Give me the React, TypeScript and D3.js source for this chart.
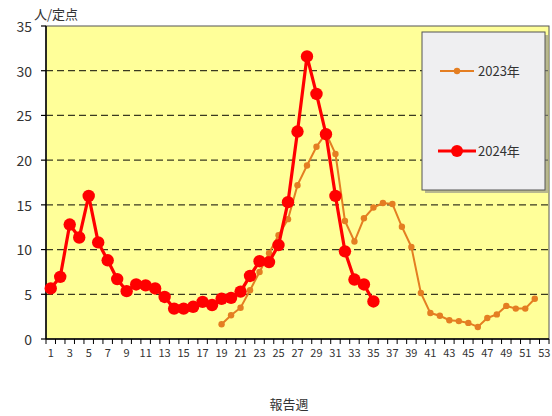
import React from "react";
import * as d3 from "d3";

const weeks: number[] = d3.range(1, 54);
const yTicks: number[] = [0, 5, 10, 15, 20, 25, 30, 35];
const xTickLabels: number[] = d3.range(1, 54, 2);

const weeks2023: number[] = d3.range(19, 53);
const values2023: number[] = [
  1.65, 2.65, 3.5, 5.45, 7.5, 9.6, 11.6, 13.4, 17.2, 19.4, 21.5, 23.0, 20.7, 13.2,
  10.9, 13.5, 14.7, 15.2, 15.1, 12.55, 10.3, 5.15, 2.9, 2.6, 2.1, 2.0, 1.8, 1.35,
  2.35, 2.75, 3.7, 3.4, 3.4, 4.5,
];

const weeks2024: number[] = d3.range(1, 36);
const values2024: number[] = [
  5.65, 6.95, 12.8, 11.35, 16.0, 10.8, 8.8, 6.7, 5.35, 6.1, 6.0, 5.65, 4.7, 3.4,
  3.4, 3.6, 4.15, 3.8, 4.5, 4.6, 5.3, 7.05, 8.7, 8.6, 10.5, 15.3, 23.2, 31.6,
  27.4, 22.9, 16.0, 9.8, 6.65, 6.1, 4.2,
];

const seriesNames: string[] = ["2023年", "2024年"];
const yUnit = "人/定点";
const xTitle = "報告週";

const W = 552;
const H = 416;
const left = 46;
const right = 549;
const top = 26;
const bottom = 339;

const FONT = "'Noto Sans CJK JP', 'Noto Sans', sans-serif";

export default function App() {
  const x = d3.scaleBand<number>().domain(weeks).range([left, right]).padding(0);
  const y = d3.scaleLinear().domain([0, 35]).range([bottom, top]);
  const cx = (w: number) => (x(w) as number) + x.bandwidth() / 2;

  const line = d3
    .line<[number, number]>()
    .x((d) => cx(d[0]))
    .y((d) => y(d[1]));

  const d2023: [number, number][] = weeks2023.map((w, i) => [w, values2023[i]]);
  const d2024: [number, number][] = weeks2024.map((w, i) => [w, values2024[i]]);

  const orange = "#E47E22";
  const red = "#FF0000";

  const boundaries = d3.range(0, weeks.length + 1).map((i) => left + i * x.step());

  return (
    <svg
      width={W}
      height={H}
      style={{ position: "absolute", left: 0, top: 0, background: "#fff" }}
      fontFamily={FONT}
    >
      <rect x={left} y={top} width={right - left} height={bottom - top} fill="#FFFF99" stroke="#555" strokeWidth={1} />
      {yTicks
        .filter((t) => t > 0 && t < 35)
        .map((t) => (
          <line
            key={"g" + t}
            x1={left}
            x2={right}
            y1={y(t)}
            y2={y(t)}
            stroke="#3a3a20"
            strokeWidth={1.2}
            strokeDasharray="7,4"
          />
        ))}
      {/* axes */}
      <line x1={left} x2={left} y1={top} y2={bottom} stroke="#000" strokeWidth={1.5} />
      <line x1={left} x2={right} y1={bottom} y2={bottom} stroke="#000" strokeWidth={1.5} />
      {yTicks.map((t) => (
        <g key={"yt" + t}>
          <line x1={left - 5} x2={left} y1={y(t)} y2={y(t)} stroke="#000" strokeWidth={1.2} />
          <text x={left - 14} y={y(t) + 1} dy="0.35em" textAnchor="end" fontSize={14} fill="#333">
            {t}
          </text>
        </g>
      ))}
      {boundaries.map((b, i) => (
        <line key={"xt" + i} x1={b} x2={b} y1={bottom} y2={bottom + 5} stroke="#000" strokeWidth={1} />
      ))}
      {xTickLabels.map((w) => (
        <text key={"xl" + w} x={cx(w)} y={bottom + 18} textAnchor="middle" fontSize={11} fill="#333">
          {w}
        </text>
      ))}
      <text x={34} y={19} fontSize={13} fill="#333">
        {yUnit}
      </text>
      <text x={289} y={409} textAnchor="middle" fontSize={13} fill="#333">
        {xTitle}
      </text>

      {/* 2023 */}
      <path d={line(d2023) || ""} fill="none" stroke={orange} strokeWidth={2} />
      {d2023.map((d) => (
        <circle key={"o" + d[0]} cx={cx(d[0])} cy={y(d[1])} r={3.2} fill={orange} />
      ))}
      {/* 2024 */}
      <path d={line(d2024) || ""} fill="none" stroke={red} strokeWidth={3.2} />
      {d2024.map((d) => (
        <circle key={"r" + d[0]} cx={cx(d[0])} cy={y(d[1])} r={6.2} fill={red} />
      ))}

      {/* legend */}
      <rect x={425} y={35} width={123} height={158} fill="#888" opacity={0.6} />
      <rect x={422} y={32} width={123} height={158} fill="#EFEFF1" stroke="#555" strokeWidth={1} />
      <line x1={440} x2={474} y1={71} y2={71} stroke={orange} strokeWidth={2} />
      <circle cx={457} cy={71} r={3.2} fill={orange} />
      <text x={478} y={71} dy="0.35em" fontSize={13} fill="#333">
        {seriesNames[0]}
      </text>
      <line x1={438} x2={476} y1={151} y2={151} stroke={red} strokeWidth={3.2} />
      <circle cx={457} cy={151} r={6} fill={red} />
      <text x={478} y={151} dy="0.35em" fontSize={13} fill="#333">
        {seriesNames[1]}
      </text>
    </svg>
  );
}
